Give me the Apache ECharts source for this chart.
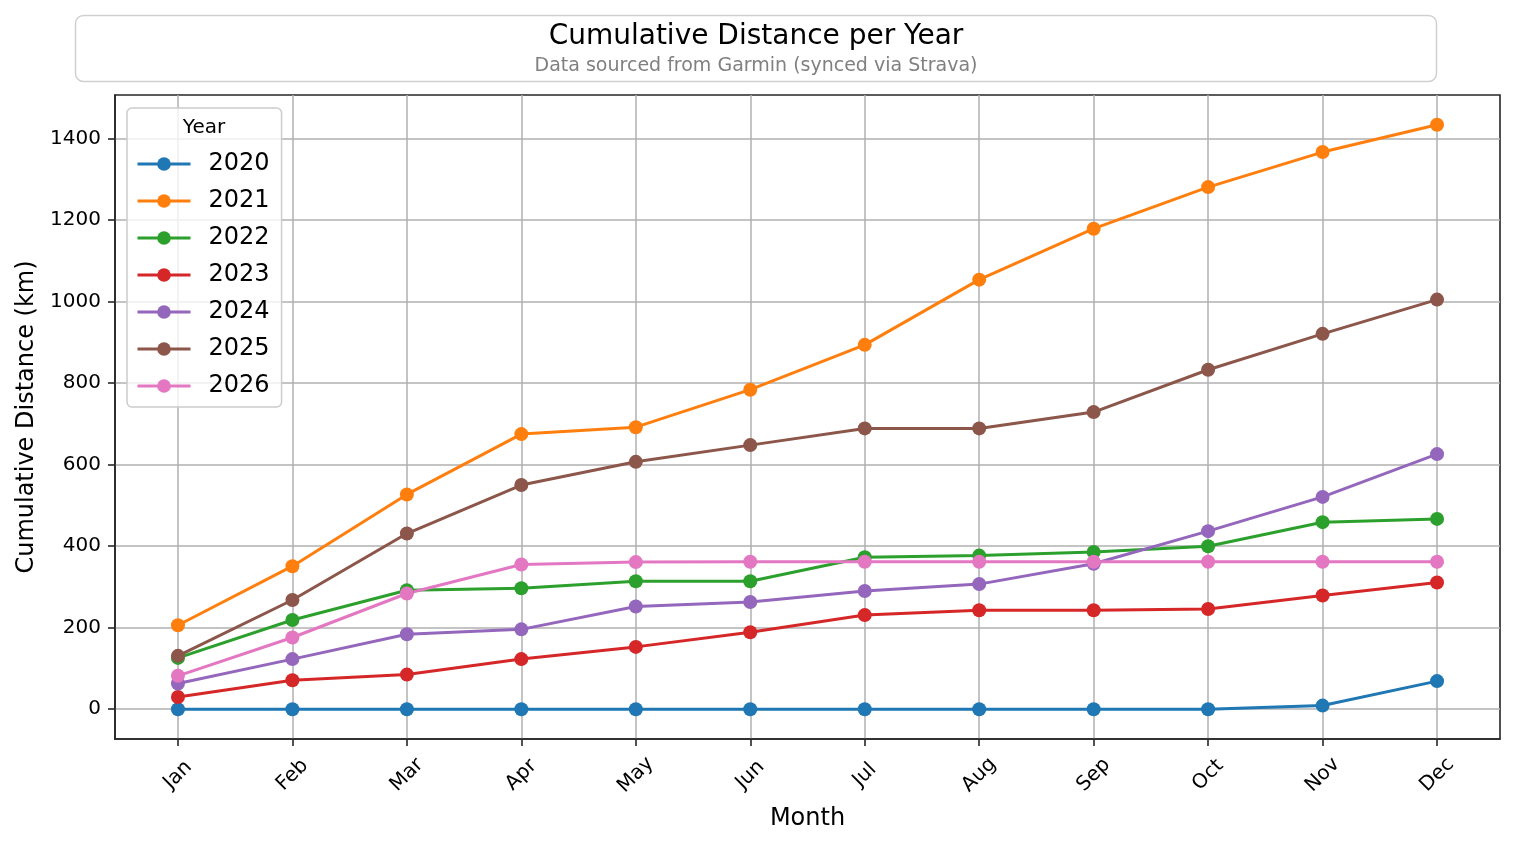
<!DOCTYPE html>
<html>
<head>
<meta charset="utf-8">
<script src="https://cdn.jsdelivr.net/npm/echarts@6/dist/echarts.min.js"></script>
<style>
  html, body { margin: 0; padding: 0; background: #fff; }
  #chart { width: 1514px; height: 847px; }
</style>
</head>
<body>
<div id="chart"></div>
<script>
// months on the x axis
const months = ['Jan', 'Feb', 'Mar', 'Apr', 'May', 'Jun', 'Jul', 'Aug', 'Sep', 'Oct', 'Nov', 'Dec'];
const yTicks = [0, 200, 400, 600, 800, 1000, 1200, 1400];

// cumulative km per month
const y2020 = [0, 0, 0, 0, 0, 0, 0, 0, 0, 0, 9, 69];
const y2021 = [206, 351, 527, 675, 692, 784, 894, 1054, 1179, 1281, 1367, 1434];
const y2022 = [126, 219, 292, 297, 314, 314, 373, 377, 386, 400, 459, 467];
const y2023 = [30, 71, 85, 123, 153, 189, 231, 243, 243, 246, 279, 311];
const y2024 = [63, 123, 184, 196, 252, 263, 290, 307, 357, 437, 521, 626];
const y2025 = [131, 268, 431, 550, 607, 648, 689, 689, 729, 833, 921, 1005];
const y2026 = [82, 176, 284, 355, 361, 362, 362, 362, 362, 362, 362, 362];

const years = ['2020', '2021', '2022', '2023', '2024', '2025', '2026'];
const yearData = [y2020, y2021, y2022, y2023, y2024, y2025, y2026];
const colors = ['#1f77b4', '#ff7f0e', '#2ca02c', '#d62728', '#9467bd', '#8c564b', '#e377c2'];

const FONT = 'DejaVu Sans';
const monthIdx = months.map((m, i) => i);

const chart = echarts.init(document.getElementById('chart'));

const series = years.map((name, k) => ({
  name: name,
  type: 'line',
  data: yearData[k].map((v, i) => [i, v]),
  symbol: 'circle',
  symbolSize: 14,
  lineStyle: { width: 3, color: colors[k] },
  itemStyle: { color: colors[k] },
  emphasis: { disabled: true },
  animation: false
}));

const option = {
  backgroundColor: '#fff',
  animation: false,
  textStyle: { fontFamily: FONT },
  grid: {
    left: 115, right: 14, top: 95, bottom: 108,
    show: true,
    borderColor: '#262626',
    borderWidth: 1.6,
    backgroundColor: 'transparent'
  },
  graphic: [
    {
      type: 'rect',
      shape: { x: 75.5, y: 15.5, width: 1361, height: 66, r: 8 },
      style: { fill: '#fff', stroke: '#d0d0d0', lineWidth: 1.5 },
      z: 10
    },
    {
      type: 'text', x: 756, y: 37, z: 11,
      style: { text: 'Cumulative Distance per Year', font: '28px "DejaVu Sans"', fill: '#000', align: 'center', verticalAlign: 'middle' }
    },
    {
      type: 'text', x: 756, y: 66, z: 11,
      style: { text: 'Data sourced from Garmin (synced via Strava)', font: '19px "DejaVu Sans"', fill: '#808080', align: 'center', verticalAlign: 'middle' }
    },
    {
      type: 'text', x: 204, y: 128, z: 100,
      style: { text: 'Year', font: '20px "DejaVu Sans"', fill: '#000', align: 'center', verticalAlign: 'middle' }
    }
  ],
  legend: {
    orient: 'vertical',
    left: 127,
    top: 108,
    data: years,
    itemWidth: 53,
    itemHeight: 17,
    itemGap: 13,
    padding: [44, 12, 9, 9],
    backgroundColor: 'rgba(255,255,255,0.8)',
    borderColor: '#cccccc',
    borderWidth: 1.5,
    borderRadius: 5,
    lineStyle: { width: 3 },
    textStyle: { fontFamily: FONT, fontSize: 24, color: '#000', padding: [0, 0, 0, 13] },
    selectedMode: false
  },
  xAxis: {
    type: 'value',
    min: -0.55,
    max: 11.55,
    name: 'Month',
    nameLocation: 'middle',
    nameGap: 68,
    nameTextStyle: { fontFamily: FONT, fontSize: 24, color: '#000', verticalAlign: 'top' },
    axisLine: { show: true, onZero: false, lineStyle: { color: '#262626', width: 1.6 } },
    axisTick: { show: true, inside: false, length: 7, customValues: monthIdx, lineStyle: { color: '#262626', width: 1.6 } },
    axisLabel: {
      customValues: monthIdx,
      formatter: v => months[Math.round(v)],
      rotate: 45,
      align: 'center',
      verticalAlign: 'middle',
      margin: 36,
      fontFamily: FONT,
      fontSize: 20,
      color: '#000'
    },
    splitLine: { show: true, lineStyle: { color: '#b0b0b0', width: 1.5 } }
  },
  yAxis: {
    type: 'value',
    min: -73,
    max: 1507,
    name: 'Cumulative Distance (km)',
    nameLocation: 'middle',
    nameGap: 71,
    nameTextStyle: { fontFamily: FONT, fontSize: 24, color: '#000' },
    axisLine: { show: true, onZero: false, lineStyle: { color: '#262626', width: 1.6 } },
    axisTick: { show: true, inside: false, length: 7, customValues: yTicks, lineStyle: { color: '#262626', width: 1.6 } },
    axisLabel: { customValues: yTicks, formatter: v => String(v), margin: 14, fontFamily: FONT, fontSize: 20, color: '#000' },
    splitLine: { show: true, lineStyle: { color: '#b0b0b0', width: 1.5 } }
  },
  series: series
};

chart.setOption(option);
</script>
</body>
</html>
